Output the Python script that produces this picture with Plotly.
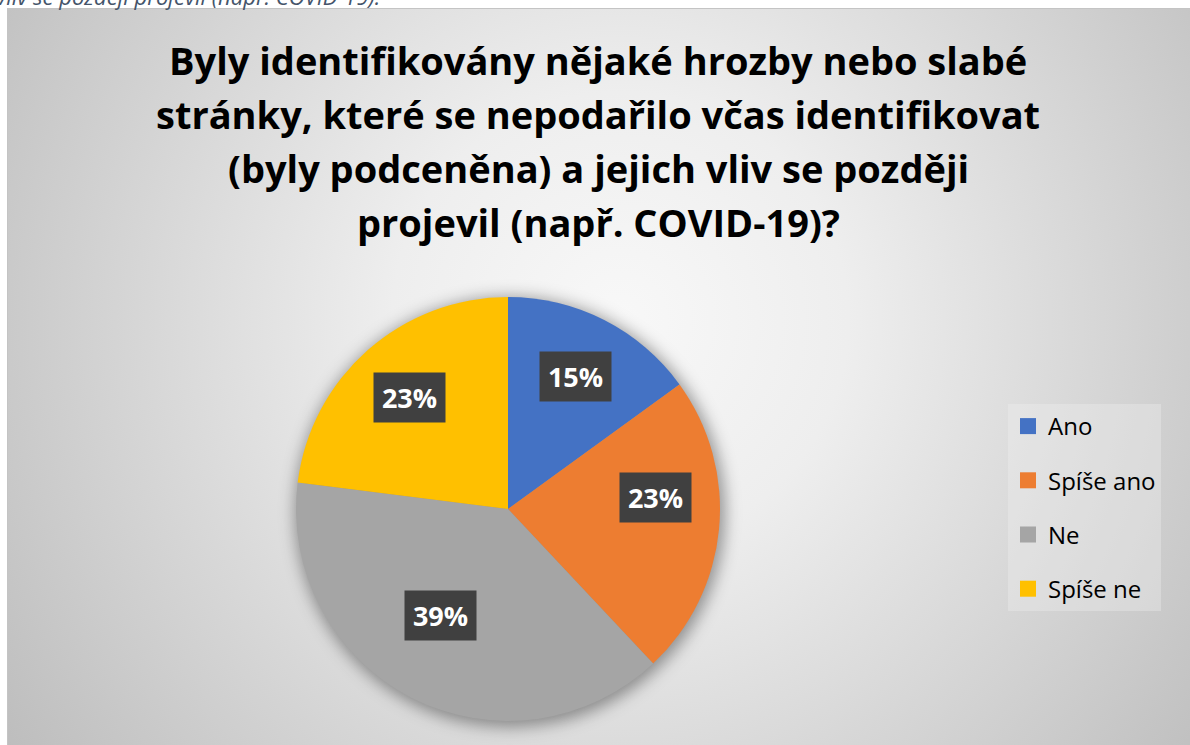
import base64
import math
import plotly.graph_objects as go

# data: share of answers (percent)
categories = ['Ano', 'Spíše ano', 'Ne', 'Spíše ne']
shares = [15, 23, 39, 23]
colors = ['#4472C4', '#ED7D31', '#A5A5A5', '#FFC000']

title_lines = [
    'Byly identifikovány nějaké hrozby nebo slabé',
    'stránky, které se nepodařilo včas identifikovat',
    '(byly podceněna) a jejich vliv se později',
    'projevil (např. COVID-19)?',
]
caption_text = 'vliv se později projevil (např. COVID-19).'

# page geometry (pixels)
W, H = 1190, 745
CX, CY, R = 508, 509, 212       # pie centre and radius
FRAME_X, FRAME_Y = 7, 8         # chart area top-left corner
LABEL_R = 0.70                  # data labels at 70 % of the radius
TITLE_TOP, TITLE_STEP = 60, 54  # title line centres
TITLE_CX = 598
FONT = 'Open Sans'

# background: radial gradient chart area + soft shadow under the pie
svg = f'''<svg xmlns="http://www.w3.org/2000/svg" width="{W}" height="{H}" viewBox="0 0 {W} {H}">
<defs>
<radialGradient id="g" gradientUnits="userSpaceOnUse" cx="620" cy="320" r="760">
<stop offset="0" stop-color="#f8f8f8"/>
<stop offset="0.3" stop-color="#eeeeee"/>
<stop offset="1" stop-color="#bcbcbc"/>
</radialGradient>
<filter id="b" x="-20%" y="-20%" width="140%" height="140%"><feGaussianBlur stdDeviation="8"/></filter>
</defs>
<rect width="{W}" height="{H}" fill="#ffffff"/>
<rect x="{FRAME_X + 0.5}" y="{FRAME_Y + 0.5}" width="{W + 20}" height="{H + 20}" fill="url(#g)" stroke="#c4c4c4"/>
<circle cx="{CX + 2}" cy="{CY + 3}" r="{R + 3}" fill="rgba(0,0,0,0.38)" filter="url(#b)"/>
</svg>'''
svg_uri = 'data:image/svg+xml;base64,' + base64.b64encode(svg.encode('utf-8')).decode('ascii')

fig = go.Figure()

fig.add_trace(go.Pie(
    labels=categories,
    values=shares,
    marker=dict(colors=colors, line=dict(width=0)),
    sort=False,
    direction='clockwise',
    rotation=0,
    textinfo='none',
    hoverinfo='label+percent',
    showlegend=False,
    domain=dict(x=[(CX - R) / W, (CX + R) / W], y=[1 - (CY + R) / H, 1 - (CY - R) / H]),
))

# legend entries (square swatches with wider spacing than the pie legend allows)
for i, (cat, col) in enumerate(zip(categories, colors)):
    fig.add_trace(go.Scatter(
        x=[None], y=[None], mode='markers', name=cat,
        marker=dict(symbol='square', size=18, color=col),
        legendgroup=f'g{i}', showlegend=True, hoverinfo='skip',
    ))

# data labels: dark boxes at the middle angle of each slice
total = sum(shares)
cum = 0
for cat, v in zip(categories, shares):
    mid = (cum + v / 2) / total * 2 * math.pi
    cum += v
    px_x = CX + LABEL_R * R * math.sin(mid)
    px_y = CY - LABEL_R * R * math.cos(mid)
    fig.add_annotation(
        x=px_x / W, y=1 - px_y / H, xref='paper', yref='paper',
        text=f'<b>{round(v / total * 100)}%</b>', showarrow=False,
        font=dict(family=FONT, size=27, color='white'),
        bgcolor='#404040', width=63, height=41, borderpad=4,
    )

# title, one annotation per line so the line spacing matches
for i, line in enumerate(title_lines):
    fig.add_annotation(
        x=TITLE_CX / W, y=1 - (TITLE_TOP + i * TITLE_STEP) / H,
        xref='paper', yref='paper', xanchor='center', yanchor='middle',
        text=f'<b>{line}</b>', showarrow=False,
        font=dict(family=FONT, size=38, color='#000000'),
    )

# clipped caption of the surrounding document
fig.add_annotation(
    x=0, y=1, xref='paper', yref='paper', xanchor='left', yanchor='bottom',
    xshift=-6, yshift=-13, text=f'<i>{caption_text}</i>', showarrow=False,
    font=dict(family=FONT, size=22, color='#44546A'),
)

fig.update_layout(
    width=W, height=H,
    margin=dict(l=0, r=0, t=0, b=0),
    paper_bgcolor='white',
    plot_bgcolor='rgba(0,0,0,0)',
    xaxis=dict(visible=False),
    yaxis=dict(visible=False),
    images=[dict(source=svg_uri, xref='paper', yref='paper', x=0, y=1,
                 sizex=1, sizey=1, sizing='stretch', xanchor='left', yanchor='top',
                 layer='below')],
    legend=dict(
        x=1008 / W, y=1 - 404 / H, xanchor='left', yanchor='top',
        bgcolor='rgba(240,240,240,0.35)',
        font=dict(family=FONT, size=24, color='#000000'),
        traceorder='grouped', tracegroupgap=20,
        itemclick=False, itemdoubleclick=False,
    ),
)

# page body margin off so the figure sits at the window corner
fig.write_html('out.html', config={'displayModeBar': False},
               post_script="document.body.style.margin='0';")
